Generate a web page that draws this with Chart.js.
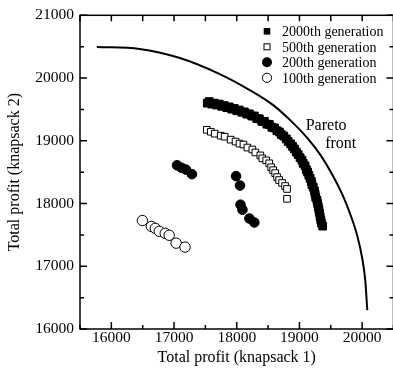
<!DOCTYPE html>
<html><head><meta charset="utf-8">
<script src="https://cdn.jsdelivr.net/npm/chart.js@4"></script>
<style>html,body{margin:0;padding:0;overflow:hidden;background:#fff;width:393px;height:376px}
canvas{display:block}</style></head>
<body><canvas id="c" width="400" height="376"></canvas>
<script>
const FONT='"Liberation Serif","Times New Roman",serif';
const xTicks=[16000,17000,18000,19000,20000];
const yTicks=[16000,17000,18000,19000,20000,21000];
const legendLabels=['2000th generation','500th generation','200th generation','100th generation'];
const xTitle='Total profit (knapsack 1)';
const yTitle='Total profit (knapsack 2)';
const frontLabel=['Pareto','front'];
const frontLabelX=[19100,19410];
const frontLabelY=[19175,18885];

const frontX=[15769,16448,17080,17712,18186,18581,18897,19134,19339,19529,19687,19813,19924,20003,20050,20082];
const frontY=[20496,20464,20323,20071,19820,19568,19285,19034,18767,18452,18138,17824,17478,17116,16770,16299];

const gen2000X=[17530,17560,17600,17640,17680,17720,17760,17800,17840,17880,17920,17960,18000,18040,18080,18120,18160,18200,18240,18280,18320,18360,18400,18440,18480,18520,18560,18600,18640,18680,18710,18750,18790,18820,18860,18890,18920,18950,18980,19010,19040,19060,19090,19110,19130,19150,19170,19190,19200,19220,19240,19250,19260,19280,19290,19300,19310,19320,19330,19340,19350,19370];
const gen2000Y=[19600,19625,19585,19600,19570,19585,19550,19560,19530,19540,19505,19515,19480,19490,19455,19460,19425,19430,19395,19395,19355,19350,19310,19310,19265,19260,19215,19205,19160,19140,19100,19075,19030,18990,18950,18910,18870,18820,18780,18730,18690,18640,18600,18540,18500,18450,18400,18350,18300,18260,18200,18150,18100,18050,18000,17950,17900,17850,17790,17740,17690,17640];

const gen500X=[17522,17586,17649,17744,17807,17902,17981,18044,18107,18170,18249,18297,18376,18407,18470,18518,18549,18581,18613,18644,18676,18723,18771,18802,18802];
const gen500Y=[19175,19144,19113,19081,19065,19018,18987,18955,18940,18892,18861,18814,18767,18720,18688,18641,18578,18531,18484,18421,18374,18327,18279,18232,18075];

const gen200X=[17048,17120,17190,17285,17989,18052,18060,18091,18202,18281];
const gen200Y=[18610,18570,18540,18468,18437,18287,17981,17902,17761,17698];

const gen100X=[16495,16638,16701,16764,16859,16922,17033,17175];
const gen100Y=[17729,17635,17604,17557,17525,17494,17368,17305];

const zip=(xs,ys)=>xs.map((x,i)=>({x,y:ys[i]}));

const framePlugin={
  id:'frame',
  afterDraw(chart){
    const ctx=chart.ctx,a=chart.chartArea,sx=chart.scales.x,sy=chart.scales.y;
    ctx.save();
    ctx.strokeStyle='#000';ctx.lineWidth=1.5;
    ctx.strokeRect(a.left,a.top,a.right-a.left,a.bottom-a.top);
    ctx.beginPath();
    sx.ticks.forEach(t=>{
      const p=sx.getPixelForValue(t.value);
      const major=xTicks.includes(t.value);
      const L=major?7:4;
      ctx.moveTo(p,a.bottom);ctx.lineTo(p,a.bottom-L);
      ctx.moveTo(p,a.top);ctx.lineTo(p,a.top+6);
    });
    sy.ticks.forEach(t=>{
      const p=sy.getPixelForValue(t.value);
      const major=yTicks.includes(t.value);
      const L=major?7:4;
      ctx.moveTo(a.left,p);ctx.lineTo(a.left+L,p);
      ctx.moveTo(a.right,p);ctx.lineTo(a.right-L,p);
    });
    ctx.stroke();
    ctx.fillStyle='#000';ctx.font='16px '+FONT;ctx.textBaseline='alphabetic';ctx.textAlign='left';
    frontLabel.forEach((s,i)=>{
      ctx.fillText(s,sx.getPixelForValue(frontLabelX[i]),sy.getPixelForValue(frontLabelY[i]));
    });
    const mx=267,tx=282,base=[36,51.5,67,82.5];
    ctx.font='14px '+FONT;
    legendLabels.forEach((s,i)=>{
      const cy=base[i]-4.7;
      ctx.lineWidth=1;ctx.strokeStyle='#000';
      if(i===0){ctx.fillStyle='#000';ctx.fillRect(mx-3.3,cy-3.3,6.6,6.6);}
      else if(i===1){ctx.strokeRect(mx-3,cy-3,6,6);}
      else if(i===2){ctx.fillStyle='#000';ctx.beginPath();ctx.arc(mx,cy,5,0,Math.PI*2);ctx.fill();}
      else {ctx.fillStyle='#fff';ctx.beginPath();ctx.arc(mx,cy,4.6,0,Math.PI*2);ctx.fill();ctx.stroke();}
      ctx.fillStyle='#000';
      ctx.fillText(s,tx,base[i]);
    });
    ctx.restore();
  }
};

new Chart(document.getElementById('c'),{
  type:'scatter',
  data:{datasets:[
    {label:'Pareto front',type:'line',data:zip(frontX,frontY),borderColor:'#000',borderWidth:2,pointRadius:0,fill:false,cubicInterpolationMode:'monotone'},
    {label:legendLabels[3],data:zip(gen100X,gen100Y),pointStyle:'circle',pointRadius:5.2,pointBackgroundColor:'#fff',pointBorderColor:'#000',pointBorderWidth:1},
    {label:legendLabels[2],data:zip(gen200X,gen200Y),pointStyle:'circle',pointRadius:4.8,pointBackgroundColor:'#000',pointBorderColor:'#000',pointBorderWidth:1},
    {label:legendLabels[1],data:zip(gen500X,gen500Y),pointStyle:'rect',pointRadius:4.7,pointBackgroundColor:'#fff',pointBorderColor:'#000',pointBorderWidth:1},
    {label:legendLabels[0],data:zip(gen2000X,gen2000Y),pointStyle:'rect',pointRadius:5.5,pointBackgroundColor:'#000',pointBorderColor:'#000',pointBorderWidth:1}
  ]},
  options:{
    responsive:false,animation:false,devicePixelRatio:1,events:[],
    layout:{padding:{left:0,right:3.5,top:11,bottom:0}},
    plugins:{legend:{display:false},tooltip:{enabled:false}},
    scales:{
      x:{type:'linear',min:15500,max:20500,
        grid:{display:false,drawTicks:false},border:{display:false},
        ticks:{stepSize:500,autoSkip:false,maxRotation:0,padding:0,color:'#000',font:{family:FONT,size:15.5},
          callback:v=>xTicks.includes(v)?String(v):''},
        title:{display:true,text:xTitle,color:'#000',font:{family:FONT,size:16},padding:{top:0,bottom:8.4}},
        afterFit:s=>{s.height=47;}
      },
      y:{type:'linear',min:16000,max:21000,
        grid:{display:false,drawTicks:false},border:{display:false},
        ticks:{stepSize:500,autoSkip:false,padding:6,color:'#000',font:{family:FONT,size:15.5},
          callback:v=>yTicks.includes(v)?String(v):''},
        title:{display:true,text:yTitle,color:'#000',font:{family:FONT,size:16},padding:{top:5.4,bottom:0}},
        afterFit:s=>{s.width=80;}
      }
    }
  },
  plugins:[framePlugin]
});
</script></body></html>
